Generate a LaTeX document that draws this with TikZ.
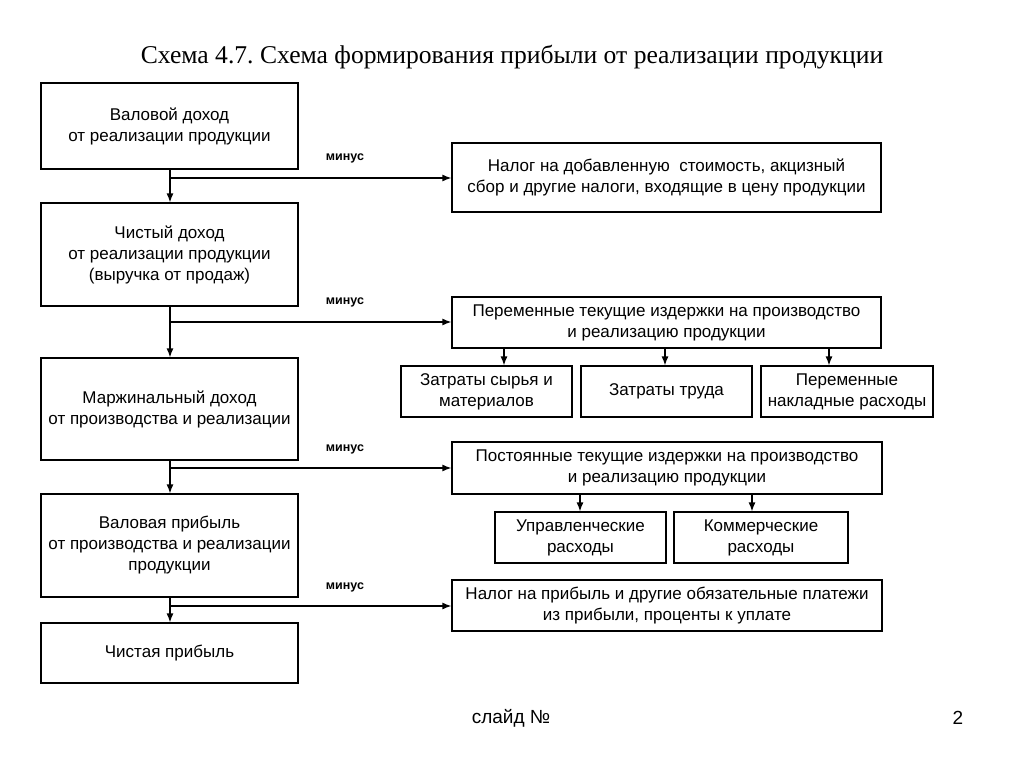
\documentclass[tikz,border=0pt]{standalone}
\usepackage{fontspec}
\setmainfont{Liberation Sans}
\newfontfamily\titlefont{Liberation Serif}
\usetikzlibrary{arrows.meta}
\frenchspacing
\tikzset{
  box/.style={draw, line width=1.2pt, rectangle, align=center, inner sep=1pt,
    font=\fontsize{17}{21}\selectfont},
  arr/.style={line width=1.3pt, -{Latex[length=9pt,width=7pt]}},
  minus/.style={font=\bfseries\fontsize{12.5}{14}\selectfont, anchor=center},
}
\begin{document}
\begin{tikzpicture}[x=1pt,y=-1pt]
\useasboundingbox[fill=white] (0,0) rectangle (1024,767);
\node[font=\titlefont\fontsize{25.6}{28}\selectfont] (title) at (512,57) {Схема 4.7. Схема формирования прибыли от реализации продукции};
% left column
\node[box, minimum width=257pt, minimum height=86pt] (b1) at (169.5,126) {Валовой доход\\от реализации продукции};
\node[box, minimum width=257pt, minimum height=103pt] (b2) at (169.5,254.5) {Чистый доход\\от реализации продукции\\(выручка от продаж)};
\node[box, minimum width=257pt, minimum height=102pt] (b3) at (169.5,409) {Маржинальный доход\\от производства и реализации};
\node[box, minimum width=257pt, minimum height=103pt] (b4) at (169.5,545.5) {Валовая прибыль\\от производства и реализации\\продукции};
\node[box, minimum width=257pt, minimum height=60pt] (b5) at (169.5,653) {Чистая прибыль};
% right column
\node[box, minimum width=429pt, minimum height=69pt] (nds) at (666.5,177.5) {Налог на добавленную\ \ стоимость, акцизный\\сбор и другие налоги, входящие в цену продукции};
\node[box, minimum width=429pt, minimum height=51pt] (var) at (666.5,322.5) {Переменные текущие издержки на производство\\и реализацию продукции};
\node[box, minimum width=171pt, minimum height=51pt] (s1) at (486.5,391.5) {Затраты сырья и\\материалов};
\node[box, minimum width=171pt, minimum height=51pt] (s2) at (666.5,391.5) {Затраты труда};
\node[box, minimum width=172pt, minimum height=51pt] (s3) at (847,391.5) {Переменные\\накладные расходы};
\node[box, minimum width=430pt, minimum height=52pt] (const) at (667,468) {Постоянные текущие издержки на производство\\и реализацию продукции};
\node[box, minimum width=171pt, minimum height=51pt] (u1) at (580.5,537.5) {Управленческие\\расходы};
\node[box, minimum width=174pt, minimum height=51pt] (u2) at (761,537.5) {Коммерческие\\расходы};
\node[box, minimum width=430pt, minimum height=51pt] (tax) at (667,605.5) {Налог на прибыль и другие обязательные платежи\\из прибыли, проценты к уплате};
% junctions
\coordinate (j1) at (170,178);
\coordinate (j2) at (170,322);
\coordinate (j3) at (170,468);
\coordinate (j4) at (170,606);
\coordinate (a1) at (504,0);
\coordinate (a2) at (665,0);
\coordinate (a3) at (829,0);
\coordinate (a4) at (580,0);
\coordinate (a5) at (752,0);
% vertical arrows
\draw[arr] (b1.south -| j1) -- (b2.north -| j1);
\draw[arr] (b2.south -| j1) -- (b3.north -| j1);
\draw[arr] (b3.south -| j1) -- (b4.north -| j1);
\draw[arr] (b4.south -| j1) -- (b5.north -| j1);
% branches
\draw[arr] (j1) -- (j1 -| nds.west);
\draw[arr] (j2) -- (j2 -| var.west);
\draw[arr] (j3) -- (j3 -| const.west);
\draw[arr] (j4) -- (j4 -| tax.west);
\node[minus] (m1) at (345,158) {минус};
\node[minus] (m2) at (345,302) {минус};
\node[minus] (m3) at (345,449) {минус};
\node[minus] (m4) at (345,587) {минус};
% sub arrows
\draw[arr] (var.south -| a1) -- (s1.north -| a1);
\draw[arr] (var.south -| a2) -- (s2.north -| a2);
\draw[arr] (var.south -| a3) -- (s3.north -| a3);
\draw[arr] (const.south -| a4) -- (u1.north -| a4);
\draw[arr] (const.south -| a5) -- (u2.north -| a5);
% footer
\node[font=\fontsize{19}{22}\selectfont] (slide) at (511,718) {слайд №};
\node[font=\fontsize{19}{22}\selectfont] (num) at (958,718) {2};
\end{tikzpicture}
\end{document}
